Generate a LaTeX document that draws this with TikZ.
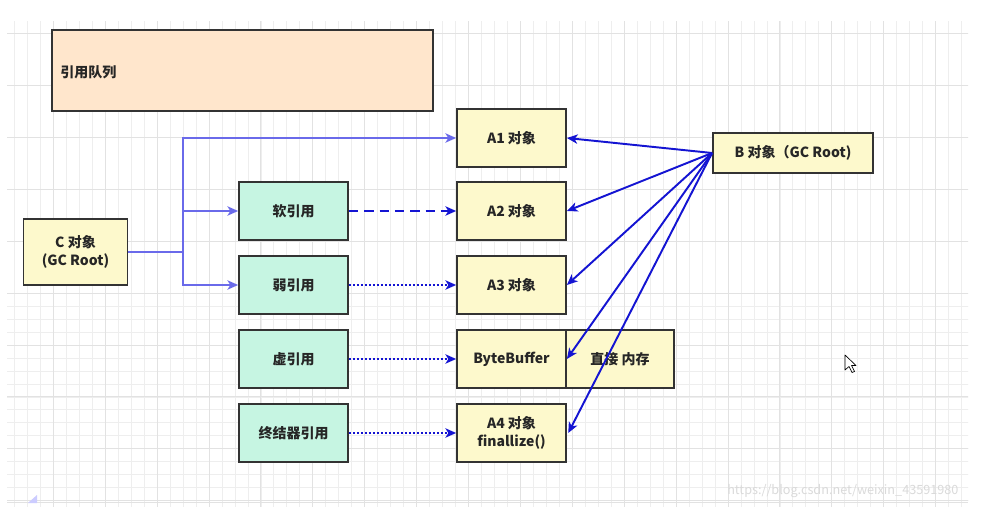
\documentclass[tikz,border=0pt]{standalone}
\usepackage{fontspec}
\setmainfont{Noto Sans CJK SC}
\usetikzlibrary{arrows.meta}
\definecolor{gridminor}{HTML}{EEEEEE}
\definecolor{gridmajor}{HTML}{E2E2E2}
\definecolor{peach}{HTML}{FFE6CC}
\definecolor{lightyellow}{HTML}{FDF9CC}
\definecolor{mint}{HTML}{C6F5E2}
\definecolor{boxline}{HTML}{333333}
\definecolor{lightblue}{HTML}{6A6AEA}
\definecolor{darkblue}{HTML}{1414D2}
\definecolor{wmark}{HTML}{DADADA}
\tikzset{
  box/.style={draw=boxline, line width=1.35pt, inner sep=2pt, align=center,
    font=\fontsize{10.5pt}{13pt}\selectfont\bfseries, text=black!85},
  objbox/.style={box, fill=lightyellow, minimum width=81.75pt, minimum height=43.5pt},
  refbox/.style={box, fill=mint, minimum width=81.75pt, minimum height=44pt},
  lightarrow/.style={draw=lightblue, line width=1.45pt,
    -{Stealth[length=8pt,width=7pt,inset=2.2pt]}},
  darkarrow/.style={draw=darkblue, line width=1.45pt,
    -{Stealth[length=8pt,width=7pt,inset=2.2pt]}},
  dashline/.style={darkarrow, dash pattern=on 7pt off 4.5pt},
  dotline/.style={darkarrow, dash pattern=on 1.3pt off 1.7pt}
}
\begin{document}
\begin{tikzpicture}[x=0.75pt,y=-0.75pt]
\useasboundingbox (0,0) rectangle (981,527);
\fill[white] (0,0) rectangle (981,527);
% grid
\begin{scope}
\clip (7,22) rectangle (968,506);
\foreach \i in {0,...,76} {
  \draw[gridminor, line width=0.6pt] ({1.4+12.975*\i},0) -- ({1.4+12.975*\i},527);
}
\foreach \i in {-3,...,38} {
  \draw[gridminor, line width=0.6pt] (0,{345+12.975*\i}) -- (981,{345+12.975*\i});
}
\foreach \i in {0,...,19} {
  \draw[gridmajor, line width=0.7pt] ({1.4+51.9*\i},0) -- ({1.4+51.9*\i},527);
}
\foreach \i in {-7,...,3} {
  \draw[gridmajor, line width=0.7pt] (0,{345+51.9*\i}) -- (981,{345+51.9*\i});
}
\end{scope}
\draw[gridmajor, line width=0.6pt] (7,502) -- (968,502);
\fill[blue!20] (28,503) -- (37,495) -- (37,503) -- cycle;

% queue
\node[box, fill=peach, minimum width=285.75pt, minimum height=60.75pt] (queue) at (242.5,70.5) {};
\node[anchor=west, font=\fontsize{10.5pt}{13pt}\selectfont\bfseries, text=black!85, inner sep=0pt] (qlabel) at (60,72) {引用队列};

% objects
\node[objbox] (A1) at (511.5,138) {A1 对象};
\node[objbox] (A2) at (511.5,211) {A2 对象};
\node[objbox] (A3) at (511.5,285) {A3 对象};
\node[objbox] (BB) at (511.5,359) {ByteBuffer};
\node[objbox, minimum width=81pt] (DM) at (620,359) {直接 内存};
\node[objbox] (A4) at (511.5,433) {A4 对象\\finallize()};
\node[objbox, minimum width=120pt, minimum height=30pt] (B) at (793,153) {B 对象（GC Root)};
\node[objbox, minimum width=78pt, minimum height=50pt] (C) at (75.5,252) {C 对象\\(GC Root)};

% references
\node[refbox] (soft) at (293.5,211) {软引用};
\node[refbox] (weak) at (293.5,285) {弱引用};
\node[refbox] (phantom) at (293.5,359) {虚引用};
\node[refbox] (final) at (293.5,433) {终结器引用};

% C connectors
\coordinate (J) at (183,252);
\draw[draw=lightblue, line width=1.45pt] (C.east) -- (J);
\draw[lightarrow] (J) |- (A1.west);
\draw[lightarrow] (J) |- (soft.west);
\draw[lightarrow] (J) |- (weak.west);

% reference connectors
\draw[dashline] (soft.east) -- (A2.west);
\draw[dotline] (weak.east) -- (A3.west);
\draw[dotline] (phantom.east) -- (BB.west);
\draw[dotline] (final.east) -- (A4.west);

% B connectors
\draw[darkarrow] (B.west) -- (A1.east);
\draw[darkarrow] (B.west) -- (A2.east);
\draw[darkarrow] (B.west) -- (A3.east);
\draw[darkarrow] (B.west) -- (BB.east);
\draw[darkarrow] (B.west) -- ([xshift=1pt]A4.east);

% cursor
\draw[black, fill=white, line width=0.5pt, line join=round]
  (845,355) -- (845,370) -- (849,366.5) -- (852,372.5) -- (854.5,371.5) -- (851.5,365.5) -- (856,365.5) -- cycle;

% watermark
\node[anchor=west, text=wmark, font=\fontsize{9.5pt}{11pt}\selectfont, inner sep=0pt] (wm) at (727,491) {https://blog.csdn.net/weixin\_43591980};
\end{tikzpicture}
\end{document}
